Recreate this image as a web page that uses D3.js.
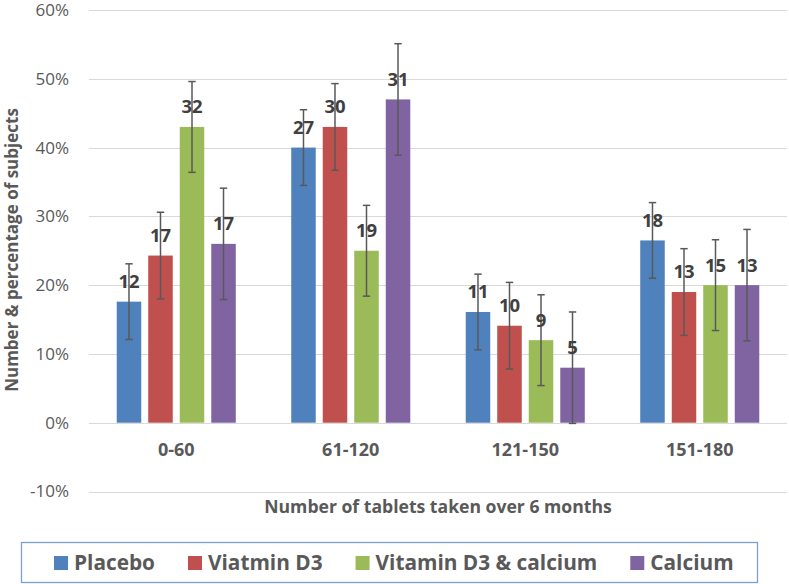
<!DOCTYPE html>
<html><head><meta charset="utf-8">
<script src="https://cdn.jsdelivr.net/npm/d3@7"></script>
<style>body{margin:0;background:#fff;} svg{display:block;font-family:"Open Sans",sans-serif;}</style>
</head><body>
<svg id="c" width="789" height="584"></svg>
<script>
const categories = ["0-60","61-120","121-150","151-180"];
const seriesNames = ["Placebo","Viatmin D3","Vitamin D3 & calcium","Calcium"];
const placebo = [17.6, 40.0, 16.1, 26.5];
const vitD3 = [24.3, 43.0, 14.1, 19.0];
const vitD3Ca = [43.0, 25.0, 12.0, 20.0];
const calcium = [26.0, 47.0, 8.0, 20.0];
const placeboN = [12, 27, 11, 18];
const vitD3N = [17, 30, 10, 13];
const vitD3CaN = [32, 19, 9, 15];
const calciumN = [17, 31, 5, 13];
const errors = [5.5, 6.3, 6.6, 8.1];
const yTicks = [-10, 0, 10, 20, 30, 40, 50, 60];
const colors = ["#4F81BD","#C0504D","#9BBB59","#8064A2"];

const values = [placebo, vitD3, vitD3Ca, calcium];
const counts = [placeboN, vitD3N, vitD3CaN, calciumN];

const svg = d3.select("#c");
const x0 = d3.scaleBand().domain(categories).range([89, 787]);
const x1 = d3.scaleBand().domain(seriesNames).range([0, x0.bandwidth()]).paddingInner(0.222).paddingOuter(0.88);
const y = d3.scaleLinear().domain([-10, 60]).range([491.5, 10]);

// gridlines
svg.append("g").selectAll("line").data(yTicks).join("line")
  .attr("x1", 89).attr("x2", 787)
  .attr("y1", d => Math.round(y(d)) + 0.5).attr("y2", d => Math.round(y(d)) + 0.5)
  .attr("stroke", "#d9d9d9").attr("stroke-width", 1);

// y tick labels
svg.append("g").selectAll("text").data(yTicks).join("text")
  .attr("x", 69).attr("y", d => y(d)).attr("dy", "0.35em")
  .attr("text-anchor", "end").attr("fill", "#595959").attr("font-size", 17)
  .text(d => d + "%");

// data rows
const rows = [];
values.forEach((arr, si) => arr.forEach((v, ci) => rows.push({s: seriesNames[si], si, c: categories[ci], v, n: counts[si][ci], e: errors[si]})));

svg.append("g").selectAll("rect").data(rows).join("rect")
  .attr("x", d => x0(d.c) + x1(d.s)).attr("width", x1.bandwidth())
  .attr("y", d => y(d.v)).attr("height", d => y(0) - y(d.v))
  .attr("fill", d => colors[d.si]);

// error bars
const eb = svg.append("g").attr("stroke", "#595959").attr("stroke-width", 1.5);
rows.forEach(d => {
  const cx = x0(d.c) + x1(d.s) + x1.bandwidth() / 2;
  eb.append("line").attr("x1", cx).attr("x2", cx).attr("y1", y(d.v + d.e)).attr("y2", y(d.v - d.e));
  eb.append("line").attr("x1", cx - 3.7).attr("x2", cx + 3.7).attr("y1", y(d.v + d.e)).attr("y2", y(d.v + d.e));
  eb.append("line").attr("x1", cx - 3.7).attr("x2", cx + 3.7).attr("y1", y(d.v - d.e)).attr("y2", y(d.v - d.e));
});

// count labels
svg.append("g").selectAll("text").data(rows).join("text")
  .attr("x", d => x0(d.c) + x1(d.s) + x1.bandwidth() / 2)
  .attr("y", d => y(d.v) - 20).attr("dy", "0.35em")
  .attr("text-anchor", "middle").attr("font-weight", "bold").attr("font-size", 18.5)
  .attr("fill", "#404040").text(d => d.n);

// category labels
svg.append("g").selectAll("text").data(categories).join("text")
  .attr("x", d => x0(d) + x0.bandwidth() / 2).attr("y", 450).attr("dy", "0.35em")
  .attr("text-anchor", "middle").attr("font-weight", "bold").attr("font-size", 18)
  .attr("fill", "#595959").text(d => d);

// axis titles
svg.append("text").attr("x", 438).attr("y", 507).attr("dy", "0.35em")
  .attr("text-anchor", "middle").attr("font-weight", "bold").attr("font-size", 17.6)
  .attr("fill", "#595959").text("Number of tablets taken over 6 months");
svg.append("text").attr("transform", "translate(12,250) rotate(-90)").attr("dy", "0.35em")
  .attr("text-anchor", "middle").attr("font-weight", "bold").attr("font-size", 17)
  .attr("fill", "#595959").text("Number & percentage of subjects");

// legend
svg.append("rect").attr("x", 21.5).attr("y", 542.5).attr("width", 736).attr("height", 40)
  .attr("fill", "#fff").attr("stroke", "#7f9fcf").attr("stroke-width", 1.3);
const lg = svg.append("g");
let lx = 54;
seriesNames.forEach((s, i) => {
  lg.append("rect").attr("x", lx).attr("y", 556).attr("width", 14).attr("height", 14).attr("fill", colors[i]);
  const t = lg.append("text").attr("x", lx + 20).attr("y", 563).attr("dy", "0.35em")
    .attr("font-weight", "bold").attr("font-size", 20.8).attr("fill", "#595959").text(s);
  lx += 20 + t.node().getComputedTextLength() + 33;
});
</script>
</body></html>
